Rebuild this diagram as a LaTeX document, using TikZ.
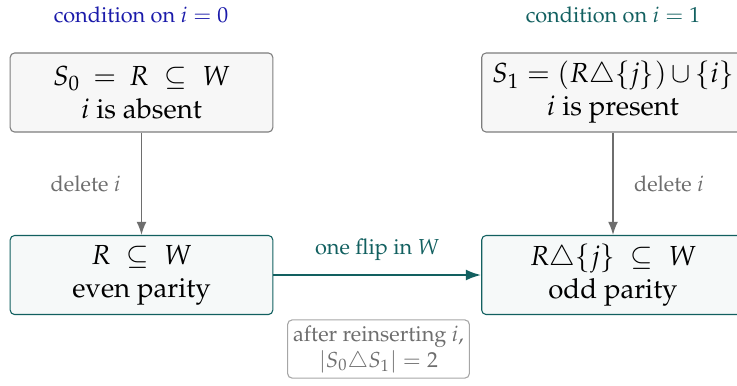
\documentclass[tikz,border=0pt]{standalone}
\usepackage[T1]{fontenc}
\usepackage{mathpazo}
\usepackage{amssymb}
\usepackage{tikz}
\usetikzlibrary{arrows.meta}
\newcommand{\bw}{121pt}
\newcommand{\bh}{36.4pt}
\definecolor{tealdk}{RGB}{18,96,96}
\definecolor{bluecond}{RGB}{26,26,170}
\definecolor{grayarr}{RGB}{110,110,110}
\colorlet{tealfill}{tealdk!4}
\tikzstyle{bigtxt}=[font=\fontsize{12.7}{15.2}\selectfont, align=center]
\tikzstyle{cond}=[draw=grayarr!90, fill=black!3, rounded corners=2pt, line width=0.5pt, minimum width=\bw, minimum height=\bh, bigtxt]
\tikzstyle{parity}=[draw=tealdk, fill=tealfill, rounded corners=2pt, line width=0.5pt, minimum width=\bw, minimum height=\bh, bigtxt]
\tikzstyle{note}=[draw=black!35, rounded corners=2pt, line width=0.5pt, align=center, text=grayarr, inner sep=2.5pt]
\tikzstyle{del}=[draw=grayarr, line width=0.7pt, -{Latex[length=6pt,width=4.5pt]}]
\tikzstyle{flip}=[draw=tealdk, line width=1pt, -{Latex[length=7pt,width=5pt]}]

\begin{document}
\begin{tikzpicture}[x=0.4608pt, y=-0.4608pt]

\path[use as bounding box, clip] (0,0) rectangle (737,385);

% conditioning
\node[text=bluecond] (c0) at (141,15) {condition on $i = 0$};
\node[text=tealdk] (c1) at (613,15) {condition on $i = 1$};

\node[cond] (s0) at (141.5,92.5) {$S_0 \:=\: R \;\subseteq\; W$\\$i$ is absent};
\node[cond] (s1) at (613,92.5) {$\medmuskip=3mu S_1 = (R\triangle\{j\})\cup\{i\}$\\$i$ is present};

\node[parity] (even) at (141.5,275) {$R \;\subseteq\; W$\\even parity};
\node[parity] (odd) at (613,275) {$R\triangle\{j\} \;\subseteq\; W$\\odd parity};

\draw[del] (s0.south) -- node[left=6pt, text=grayarr] {delete $i$} (even.north);
\draw[del] (s1.south) -- node[right=6pt, text=grayarr] {delete $i$} (odd.north);

\draw[flip] (even.east) -- node[above=3pt, text=tealdk] {one flip in $W$} (odd.west);

\node[note] (after) at (378.5,349) {after reinserting $i$,\\$|S_0\triangle S_1| = 2$};

\end{tikzpicture}
\end{document}
